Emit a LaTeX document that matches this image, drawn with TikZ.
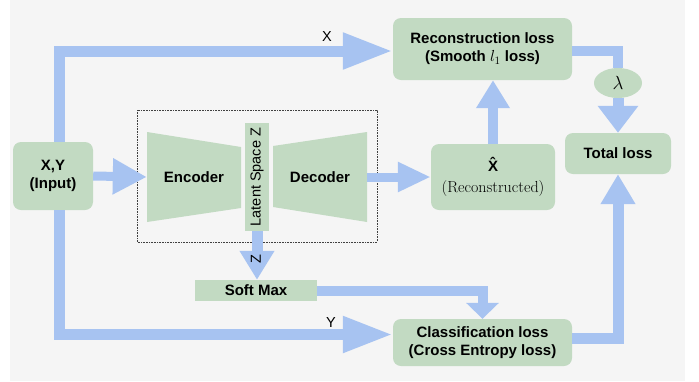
\RequirePackage{fix-cm}
\documentclass[tikz,border=0pt]{standalone}
\usepackage{fontspec}
\newfontfamily\arialf{Liberation Sans}
\usetikzlibrary{arrows.meta,shapes.geometric}
\definecolor{boxg}{HTML}{C2DAC2}
\definecolor{arrb}{HTML}{A7C3F1}
\definecolor{bgg}{HTML}{F5F5F5}
\begin{document}
\begin{tikzpicture}[x=1pt,y=-1pt,
  bfont/.style={font=\arialf\bfseries\fontsize{15}{18}\selectfont},
  rfont/.style={font=\arialf\fontsize{14.5}{17}\selectfont},
  gbox/.style={fill=boxg, rounded corners=8pt, inner sep=0pt, align=center, bfont},
  flow/.style={draw=arrb, line width=#1, line join=miter},
  flow/.default=11pt]
\useasboundingbox (0,0) rectangle (699,381);
\fill[bgg] (10,0) rectangle (685,381);

% nodes
\node[gbox, minimum width=80pt, minimum height=68pt] (in) at (53,176) {X,Y\\(Input)};
\node[gbox, minimum width=179pt, minimum height=62pt] (rec) at (482.5,49) {Reconstruction loss\\(Smooth {\fontsize{16}{18}\selectfont$l_1$} loss)};
\node[gbox, minimum width=124pt, minimum height=66pt] (xhat) at (493,177) {X^^^^0302\\[3pt]{\rmfamily\mdseries\fontsize{16}{19}\selectfont (Reconstructed)}};
\node[gbox, minimum width=106pt, minimum height=41pt] (tot) at (618,153.5) {Total loss};
\node[gbox, minimum width=179pt, minimum height=47pt] (cls) at (482.5,342.5) {Classification loss\\(Cross Entropy loss)};
\node[fill=boxg, minimum width=122pt, minimum height=21pt, inner sep=0pt, bfont] (soft) at (256,290.5) {Soft Max};
\node[ellipse, fill=boxg, minimum width=48pt, minimum height=30pt, inner sep=0pt, font=\fontsize{19}{21}\selectfont] (lam) at (618,83) {$\lambda$};

% autoencoder
\draw[black!75, line width=0.7pt, dash pattern=on 0.8pt off 0.8pt] (137,110) rectangle (377,242);
\fill[boxg] (147,132) -- (241,147) -- (241,208) -- (147,222) -- cycle;
\fill[boxg] (273,146) -- (367,132) -- (367,222) -- (273,207) -- cycle;
\node[bfont, minimum width=94pt, inner sep=0pt] (enc) at (194,177) {Encoder};
\node[bfont, minimum width=94pt, inner sep=0pt] (dec) at (320,177) {Decoder};
\node[fill=boxg, minimum width=24pt, minimum height=108pt, inner sep=0pt] (lat) at (257,177) {};
\node[rotate=90, rfont, inner sep=0pt] (latt) at (lat.center) {Latent Space Z};

% connectors
\draw[flow, -{Triangle[length=50pt,width=34pt]}] ([xshift=6pt]in.north) |- ([yshift=-2pt]rec.west);
\node[rfont] (lx) at (327,37) {X};
\draw[flow, -{Triangle[length=50pt,width=34pt]}] ([xshift=6pt]in.south) |- ([yshift=8pt]cls.west);
\node[rfont] (ly) at (331,323) {Y};
\draw[flow=9pt, -{Triangle[length=34pt,width=34pt]}] (in.east) -- (enc.west);
\draw[flow=9pt, -{Triangle[length=33pt,width=28pt]}] (dec.east) -- (xhat.west);
\draw[flow=10pt, -{Triangle[length=28pt,width=32pt]}] (xhat.north) -- (xhat.north |- rec.south);
\draw[flow=10pt] ([yshift=-2pt]rec.east) -| (lam.north);
\draw[flow=11pt, -{Triangle[length=27pt,width=39pt]}] (lam.south) -- (tot.north);
\draw[flow=11pt, -{Triangle[length=30pt,width=33pt]}] ([yshift=4pt]cls.east) -| (tot.south);
\draw[flow=11pt, -{Triangle[length=29pt,width=33pt]}] (lat.south) -- (lat.south |- soft.north);
\node[rotate=90, rfont, inner sep=0pt] (lz) at (256,259) {Z};
\draw[flow=10pt, -{Triangle[length=16pt,width=32pt]}] (soft.east) -| (cls.north);
\end{tikzpicture}
\end{document}
